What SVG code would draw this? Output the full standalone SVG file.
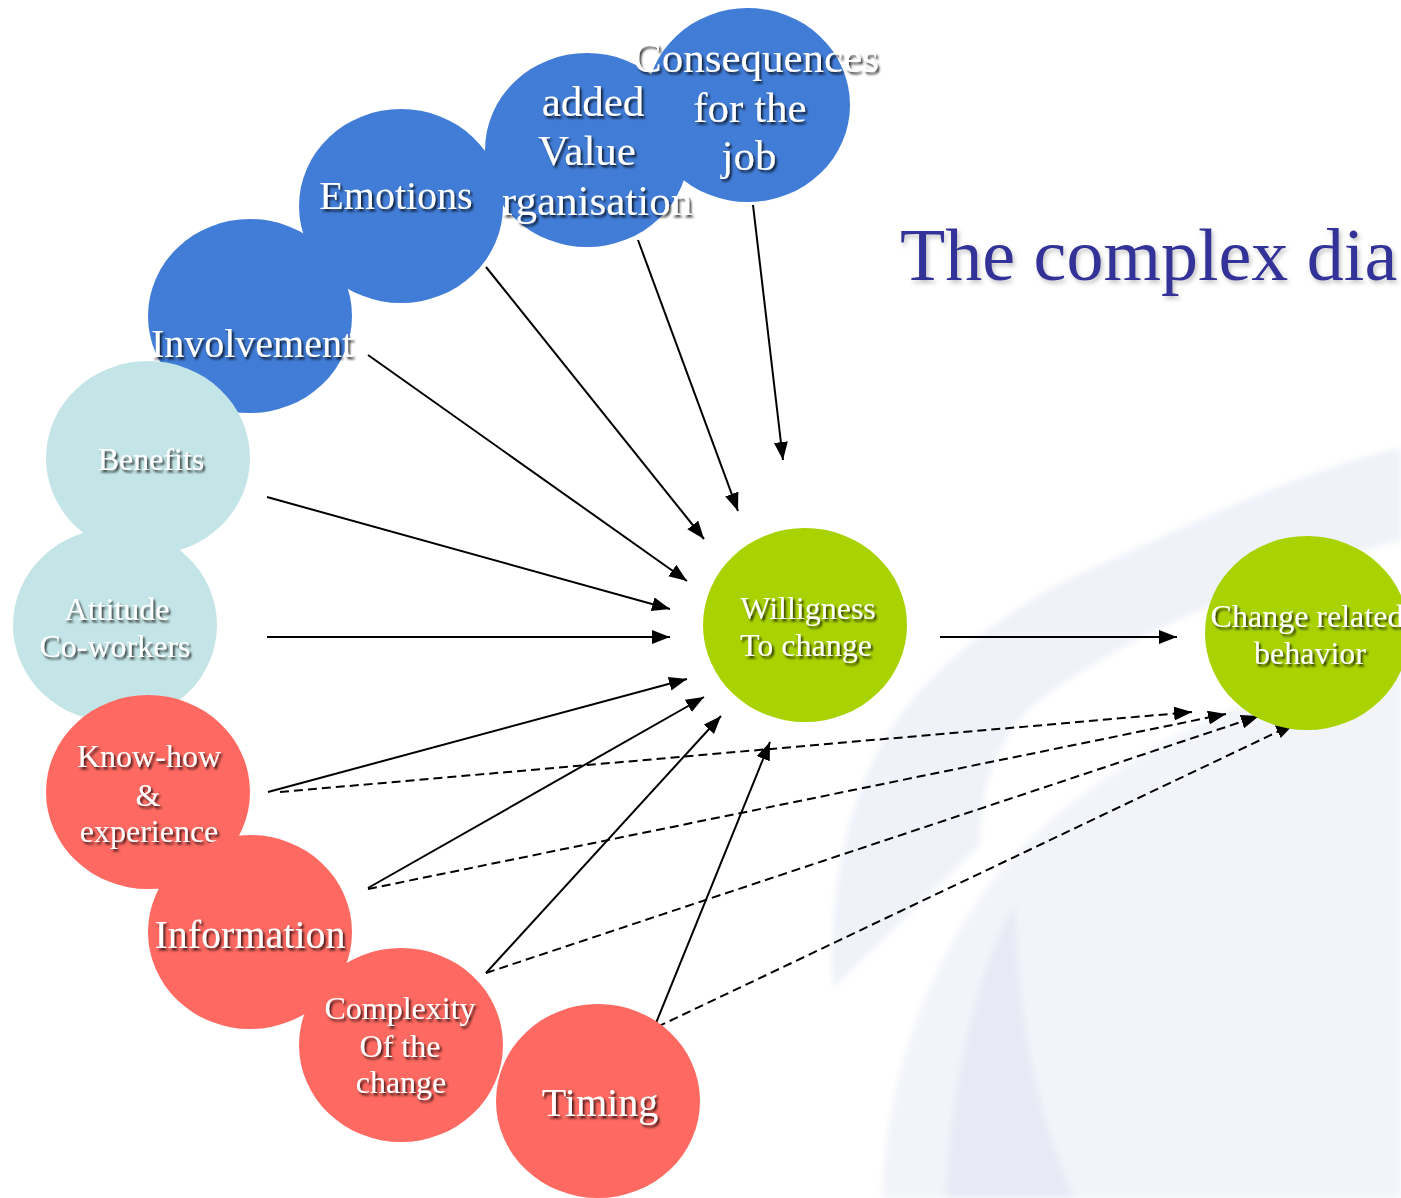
<svg xmlns="http://www.w3.org/2000/svg" width="1401" height="1198" viewBox="0 0 1401 1198">
<defs>
<style>
.blue{fill:#417cd6}
.teal{fill:#c4e5e7}
.red{fill:#fe6961}
.green{fill:#a8d200}
.t{font-family:"Liberation Serif","Times New Roman",serif;fill:#ffffff;text-anchor:middle;filter:url(#sh)}
.top{font-size:43px}
.big{font-size:40px}
.sm{font-size:32px}
.solid{stroke:#000;stroke-width:2;fill:none;marker-end:url(#ah)}
.dash{stroke:#000;stroke-width:2;fill:none;stroke-dasharray:9 5;marker-end:url(#ah)}
</style>
<filter id="sh" x="-20%" y="-30%" width="140%" height="160%">
<feDropShadow dx="2" dy="2.5" stdDeviation="1.3" flood-color="#000" flood-opacity="0.75"/>
</filter>
<filter id="tsh" x="-10%" y="-30%" width="120%" height="160%">
<feDropShadow dx="2" dy="3" stdDeviation="2" flood-color="#888" flood-opacity="0.5"/>
</filter>
<filter id="soft" x="-10%" y="-10%" width="120%" height="120%">
<feGaussianBlur stdDeviation="3"/>
</filter>
<marker id="ah" markerUnits="userSpaceOnUse" markerWidth="20" markerHeight="16" refX="18" refY="7" orient="auto">
<path d="M0,0 L18,7 L0,14 Z" fill="#000"/>
</marker>
</defs>
<rect x="0" y="0" width="1401" height="1198" fill="#ffffff"/>
<g id="background" filter="url(#soft)">
<path d="M833,988 C828,880 850,760 930,680 C980,630 1040,590 1100,565 C1200,520 1300,470 1401,448 L1401,540 C1250,580 1120,640 1040,700 C990,740 980,800 980,845 Z" fill="#f0f2f9"/>
<path d="M882,1198 C885,1080 930,950 1010,860 C1100,760 1250,690 1401,650 L1401,1198 Z" fill="#f3f4fa"/>
<path d="M946,1198 C950,1080 980,960 1015,905 C1018,1000 1030,1100 1075,1198 Z" fill="#e7eaf5"/>
</g>
<text id="title" x="900" y="280" font-family="'Liberation Serif','Times New Roman',serif" font-size="74" fill="#333399" filter="url(#tsh)">The complex dia</text>
<g id="connectors">
<line class="solid" x1="753" y1="205" x2="783" y2="460"/>
<line class="solid" x1="638" y1="240" x2="738" y2="511"/>
<line class="solid" x1="486" y1="267" x2="704" y2="539"/>
<line class="solid" x1="368" y1="355" x2="687" y2="581"/>
<line class="solid" x1="267" y1="497" x2="670" y2="609"/>
<line class="solid" x1="267" y1="637" x2="670" y2="637"/>
<line class="solid" x1="268" y1="792" x2="687" y2="679"/>
<line class="solid" x1="368" y1="888" x2="704" y2="697"/>
<line class="solid" x1="486" y1="973" x2="721" y2="716"/>
<line class="solid" x1="654" y1="1028" x2="770" y2="742"/>
<line class="solid" x1="940" y1="637" x2="1177" y2="637"/>
<line class="dash" x1="280" y1="792" x2="1192" y2="712"/>
<line class="dash" x1="368" y1="889" x2="1226" y2="714"/>
<line class="dash" x1="486" y1="973" x2="1259" y2="716"/>
<line class="dash" x1="657" y1="1027" x2="1294" y2="724"/>
</g>
<g id="n-added-value">
<ellipse class="blue" cx="587" cy="150" rx="102" ry="97"/>
<text class="t top" x="593" y="116">added</text>
<text class="t top" x="587" y="165">Value</text>
<text class="t top" x="597" y="215">rganisation</text>
</g>
<g id="n-emotions">
<ellipse class="blue" cx="401" cy="206" rx="102" ry="97"/>
<text class="t big" x="396" y="209">Emotions</text>
</g>
<g id="n-consequences">
<ellipse class="blue" cx="748" cy="105" rx="102" ry="97"/>
<text class="t top" x="756" y="72">Consequences</text>
<text class="t top" x="750" y="122">for the</text>
<text class="t top" x="749" y="170">job</text>
</g>
<g id="n-involvement">
<ellipse class="blue" cx="250" cy="316" rx="102" ry="97"/>
<text class="t big" x="252" y="357">Involvement</text>
</g>
<g id="n-benefits">
<ellipse class="teal" cx="148" cy="458" rx="102" ry="97"/>
<text class="t sm" x="151" y="470">Benefits</text>
</g>
<g id="n-attitude">
<ellipse class="teal" cx="115" cy="625" rx="102" ry="97"/>
<text class="t sm" x="117" y="620">Attitude</text>
<text class="t sm" x="115" y="657">Co-workers</text>
</g>
<g id="n-knowhow">
<ellipse class="red" cx="148" cy="792" rx="102" ry="97"/>
<text class="t sm" x="149" y="767">Know-how</text>
<text class="t sm" x="148" y="806">&amp;</text>
<text class="t sm" x="149" y="842">experience</text>
</g>
<g id="n-information">
<ellipse class="red" cx="250" cy="932" rx="102" ry="97"/>
<text class="t big" x="250" y="948">Information</text>
</g>
<g id="n-complexity">
<ellipse class="red" cx="401" cy="1045" rx="102" ry="97"/>
<text class="t sm" x="400" y="1019">Complexity</text>
<text class="t sm" x="400" y="1057">Of the</text>
<text class="t sm" x="401" y="1093">change</text>
</g>
<g id="n-timing">
<ellipse class="red" cx="598" cy="1101" rx="102" ry="97"/>
<text class="t big" x="600" y="1116">Timing</text>
</g>
<g id="n-willingness">
<ellipse class="green" cx="805" cy="625" rx="102" ry="97"/>
<text class="t sm" x="808" y="619">Willigness</text>
<text class="t sm" x="806" y="656">To change</text>
</g>
<g id="n-change-behavior">
<ellipse class="green" cx="1307" cy="633" rx="102" ry="97"/>
<text class="t sm" x="1307" y="627">Change related</text>
<text class="t sm" x="1310" y="664">behavior</text>
</g>
</svg>
